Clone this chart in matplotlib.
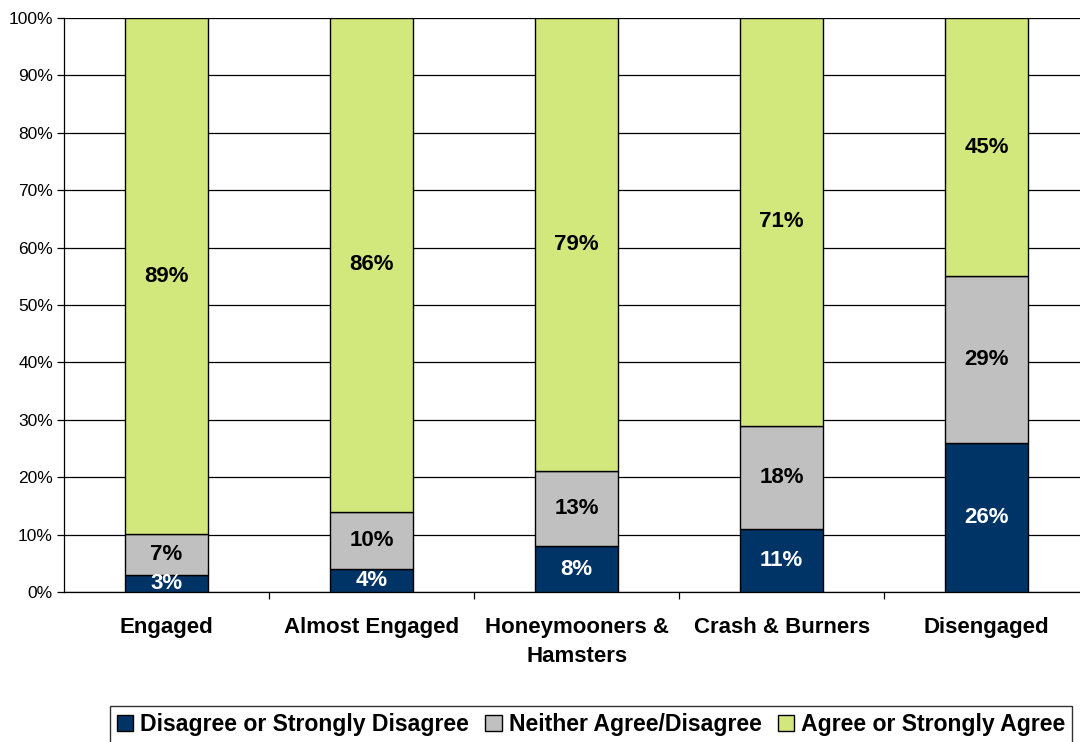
import matplotlib
matplotlib.use("Agg")
import matplotlib.pyplot as plt
import numpy as np
from matplotlib.ticker import PercentFormatter

categories = ["Engaged", "Almost Engaged", "Honeymooners &\nHamsters",
              "Crash & Burners", "Disengaged"]
series_names = ["Disagree or Strongly Disagree", "Neither Agree/Disagree",
                "Agree or Strongly Agree"]
disagree = [3, 4, 8, 11, 26]
neither = [7, 10, 13, 18, 29]
agree = [89, 86, 79, 71, 45]
colors = ["#003366", "#C0C0C0", "#D2E87C"]
label_colors = ["white", "black", "black"]

plt.rcParams["font.family"] = ["Liberation Sans", "DejaVu Sans"]

raw = np.array([disagree, neither, agree], dtype=float)
shares = raw / raw.sum(axis=0) * 100  # 100% stacked

fig = plt.figure(figsize=(10.8, 7.42), dpi=100)
ax = fig.add_axes([64 / 1080, 1 - 592 / 742, 1 - 64 / 1080, (592 - 18) / 742])

x = np.arange(len(categories))
bottom = np.zeros(len(categories))
for i, name in enumerate(series_names):
    ax.bar(x, shares[i], 0.405, bottom=bottom, color=colors[i],
           edgecolor="black", linewidth=1.0, label=name, zorder=3)
    for xi, b, h, v in zip(x, bottom, shares[i], raw[i]):
        ax.text(xi, b + h / 2, f"{v:.0f}%", ha="center", va="center",
                fontsize=16, fontweight="bold", color=label_colors[i], zorder=4)
    bottom += shares[i]

ax.set_ylim(0, 100)
ax.set_xlim(-0.5, 4.455)
ax.set_yticks(np.arange(0, 101, 10))
ax.yaxis.set_major_formatter(PercentFormatter(decimals=0))
ax.yaxis.grid(True, color="black", linewidth=0.9, zorder=0)
ax.tick_params(axis="y", labelsize=12.5, length=5, width=0.9, direction="out", pad=3)

ax.set_xticks(x)
ax.set_xticklabels(categories, fontsize=16, fontweight="bold", linespacing=1.5)
ax.set_xticks(np.arange(0.5, 4.5, 1), minor=True)
ax.tick_params(axis="x", which="major", length=0, pad=18)
ax.tick_params(axis="x", which="minor", length=5, width=0.9, direction="out")
for lbl in ax.get_xticklabels():
    lbl.set_verticalalignment("top")

for side in ["top", "right"]:
    ax.spines[side].set_visible(False)
ax.spines["left"].set_color("black")
ax.spines["bottom"].set_color("black")
ax.spines["left"].set_linewidth(0.9)
ax.spines["bottom"].set_linewidth(0.9)

leg = fig.legend(loc="upper left", bbox_to_anchor=(110 / 1080, 1 - 706 / 742),
                 ncol=3, frameon=True, fancybox=False, edgecolor="black",
                 handlelength=0.7, handleheight=0.7, handletextpad=0.3,
                 columnspacing=0.72, borderpad=0.3, borderaxespad=0,
                 prop={"weight": "bold", "size": 16.6})
leg.get_frame().set_linewidth(1.0)

fig.savefig("out.png", dpi=100)
